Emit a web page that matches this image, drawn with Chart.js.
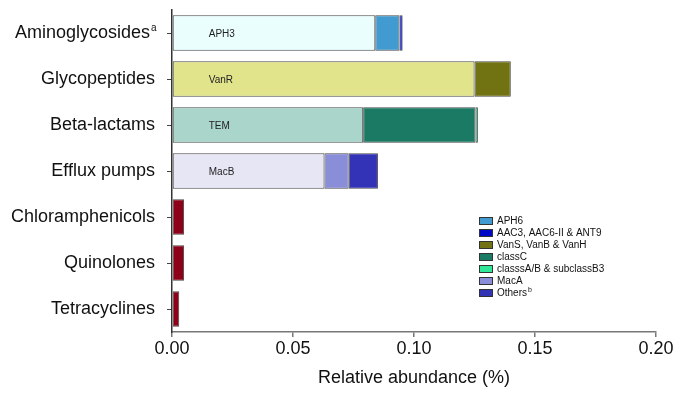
<!DOCTYPE html>
<html>
<head>
<meta charset="utf-8">
<script src="https://cdn.jsdelivr.net/npm/chart.js@4.4.0/dist/chart.umd.min.js"></script>
<style>
  html, body { margin: 0; padding: 0; background: #fff; }
  #wrap { width: 674px; height: 397px; }
</style>
</head>
<body>
<div id="wrap"><canvas id="abundance"></canvas></div>
<script>
// antibiotic classes (top to bottom)
const categories = ['Aminoglycosides', 'Glycopeptides', 'Beta-lactams', 'Efflux pumps', 'Chloramphenicols', 'Quinolones', 'Tetracyclines'];

// relative abundance (%) of each gene group, per class
const aph3    = [0.084, null, null, null, null, null, null];
const aph6    = [0.010, null, null, null, null, null, null];
const aac     = [0.0013, null, null, null, null, null, null];
const vanR    = [null, 0.125, null, null, null, null, null];
const vanS    = [null, 0.015, null, null, null, null, null];
const tem     = [null, null, 0.079, null, null, null, null];
const classC  = [null, null, 0.0464, null, null, null, null];
const classA  = [null, null, 0.001, null, null, null, null];
const macB    = [null, null, null, 0.063, null, null, null];
const macA    = [null, null, null, 0.010, null, null, null];
const others  = [null, null, null, 0.0121, null, null, null];
const single  = [null, null, null, null, 0.005, 0.005, 0.003];

const xTicks = [0, 0.05, 0.10, 0.15, 0.20];

// name, values, colour, where the name goes
const series = [
    ['APH3', aph3, '#eafefe', 'inside'],
    ['APH6', aph6, '#419bd0', 'legend'],
    ['AAC3, AAC6-II & ANT9', aac, '#0008c8', 'legend'],
    ['VanR', vanR, '#e2e48c', 'inside'],
    ['VanS, VanB & VanH', vanS, '#717212', 'legend'],
    ['TEM', tem, '#aad5cb', 'inside'],
    ['classC', classC, '#1a7a64', 'legend'],
    ['classsA/B & subclassB3', classA, '#2ee898', 'legend'],
    ['MacB', macB, '#e6e6f4', 'inside'],
    ['MacA', macA, '#8a8ed8', 'legend'],
    ['Others', others, '#3333b8', 'legend'],
    ['', single, '#8e0019', 'none']
];

const FONT = "'Liberation Sans', Arial, sans-serif";

const datasets = series.map(function (s) {
    return {
        label: s[0],
        data: s[1],
        backgroundColor: s[2],
        borderColor: '#4a4a4a',
        borderWidth: 1,
        borderSkipped: false,
        place: s[3]
    };
});

const extras = {
    id: 'extras',
    afterDatasetsDraw: function (chart) {
        const ctx = chart.ctx;
        ctx.save();
        // names written inside the bars
        ctx.font = '10px ' + FONT;
        ctx.fillStyle = '#222';
        ctx.textAlign = 'left';
        ctx.textBaseline = 'middle';
        chart.data.datasets.forEach(function (ds, i) {
            if (ds.place !== 'inside') return;
            chart.getDatasetMeta(i).data.forEach(function (bar, j) {
                if (ds.data[j] == null) return;
                ctx.fillText(ds.label, bar.base + 36, bar.y + 1);
            });
        });

        // superscript on the first class
        const yScale = chart.scales.y;
        ctx.font = '10px ' + FONT;
        ctx.fillStyle = '#111';
        ctx.fillText('a', yScale.right - 17 - 4, yScale.getPixelForValue(0) - 5);

        // legend in the lower right of the plot
        const area = chart.chartArea;
        let lx = area.left + 307;
        let ly = 221;
        chart.data.datasets.forEach(function (ds) {
            if (ds.place !== 'legend') return;
            ctx.fillStyle = ds.backgroundColor;
            ctx.fillRect(lx, ly - 3, 13, 6);
            ctx.strokeStyle = '#333';
            ctx.lineWidth = 1;
            ctx.strokeRect(lx + 0.5, ly - 3.5, 13, 7);
            ctx.fillStyle = '#111';
            ctx.font = '10px ' + FONT;
            ctx.fillText(ds.label, lx + 18, ly + 0.5);
            if (ds.label === 'Others') {
                const w = ctx.measureText('Others').width;
                ctx.font = '7px ' + FONT;
                ctx.fillText('b', lx + 18 + w + 1, ly - 3);
            }
            ly += 12;
        });
        ctx.restore();
    }
};

new Chart(document.getElementById('abundance'), {
    type: 'bar',
    data: {
        labels: categories.map(function (c, i) { return i === 0 ? c + ' ' : c; }),
        datasets: datasets
    },
    plugins: [extras],
    options: {
        indexAxis: 'y',
        responsive: true,
        maintainAspectRatio: false,
        animation: false,
        layout: { padding: { left: 0, right: 18, top: 10, bottom: 0 } },
        plugins: {
            legend: { display: false },
            tooltip: { enabled: false }
        },
        datasets: {
            bar: { categoryPercentage: 1, barPercentage: 0.77 }
        },
        scales: {
            x: {
                stacked: true,
                min: 0,
                max: 0.2,
                afterBuildTicks: function (scale) {
                    scale.ticks = xTicks.map(function (v) { return { value: v }; });
                },
                afterFit: function (scale) {
                    scale.height = 65;
                    scale.paddingLeft = 0;
                    scale.paddingRight = 0;
                },
                ticks: {
                    color: '#111',
                    padding: 1,
                    font: { family: FONT, size: 18 },
                    callback: function (v) { return Number(v).toFixed(2); }
                },
                grid: { drawOnChartArea: false, tickLength: 5, color: '#777', lineWidth: 1.5 },
                border: { color: '#777', width: 1.5 },
                title: {
                    display: true,
                    text: 'Relative abundance (%)',
                    color: '#111',
                    font: { family: FONT, size: 18 },
                    padding: { top: 0, bottom: 8 }
                }
            },
            y: {
                stacked: true,
                afterFit: function (scale) {
                    scale.width = 172;
                    scale.paddingTop = 0;
                    scale.paddingBottom = 0;
                },
                ticks: {
                    color: '#111',
                    padding: 12,
                    font: { family: FONT, size: 18 }
                },
                grid: { drawOnChartArea: false, tickLength: 5, color: '#444', offset: false },
                border: { color: '#333', width: 1.5 }
            }
        }
    }
});
</script>
</body>
</html>
